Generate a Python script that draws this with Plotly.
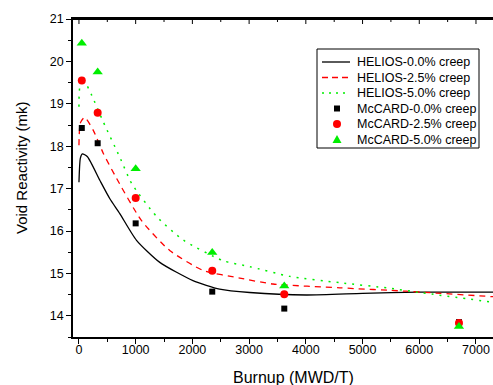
import plotly.graph_objects as go

# HELIOS curves
helios_x_00 = [0, 25, 60, 150, 370, 545, 720, 1015, 1425, 2010, 2480, 3010, 4010, 5000, 6000, 7300]
helios_y_00 = [17.15, 17.72, 17.82, 17.75, 17.19, 16.76, 16.41, 15.78, 15.26, 14.83, 14.63, 14.55, 14.49, 14.53, 14.56, 14.56]

helios_x_25 = [0, 25, 100, 250, 430, 635, 1100, 1600, 2190, 2835, 3420, 4600, 5770, 7300]
helios_y_25 = [18.02, 18.55, 18.68, 18.38, 17.83, 17.31, 16.25, 15.54, 15.07, 14.89, 14.75, 14.66, 14.58, 14.45]

helios_x_50 = [0, 25, 105, 225, 430, 720, 930, 1370, 1835, 2540, 3010, 3715, 4600, 5475, 6060, 7300]
helios_y_50 = [18.93, 19.45, 19.50, 19.20, 18.57, 17.74, 17.12, 16.34, 15.79, 15.30, 15.16, 14.93, 14.78, 14.65, 14.54, 14.32]

# McCARD points
mc_x = [50, 330, 1000, 2350, 3620, 6700]
mc_y_00 = [18.43, 18.07, 16.18, 14.57, 14.17, 13.85]
mc_y_25 = [19.55, 18.79, 16.78, 15.06, 14.51, 13.83]
mc_y_50 = [20.43, 19.75, 17.47, 15.49, 14.70, 13.75]

series_names = ["HELIOS-0.0% creep", "HELIOS-2.5% creep", "HELIOS-5.0% creep",
                "McCARD-0.0% creep", "McCARD-2.5% creep", "McCARD-5.0% creep"]

x_ticks = [0, 1000, 2000, 3000, 4000, 5000, 6000, 7000]
y_ticks = [14, 15, 16, 17, 18, 19, 20, 21]
x_range = [-105, 7300]
y_range = [13.5, 21]

FONT = "Liberation Sans, Arial, sans-serif"
BLACK, RED, GREEN = "black", "#ff0000", "#00ee00"

# plot-area geometry (pixels) for layout helpers
W, H = 493, 385
ML, MR, MT, MB = 73, 0, 19, 48
PW, PH = W - ML - MR, H - MT - MB


def px(x):
    return (x - ML) / PW


def py(y):
    return (H - MB - y) / PH


fig = go.Figure()
fig.add_trace(go.Scatter(x=helios_x_00, y=helios_y_00, mode="lines", name=series_names[0],
                         line=dict(color=BLACK, width=1.3, shape="spline", smoothing=0.6)))
fig.add_trace(go.Scatter(x=helios_x_25, y=helios_y_25, mode="lines", name=series_names[1],
                         line=dict(color=RED, width=1.3, dash="6px,5px", shape="spline", smoothing=0.6)))
fig.add_trace(go.Scatter(x=helios_x_50, y=helios_y_50, mode="lines", name=series_names[2],
                         line=dict(color=GREEN, width=1.5, dash="2px,6px", shape="spline", smoothing=0.6)))
fig.add_trace(go.Scatter(x=mc_x, y=mc_y_00, mode="markers", name=series_names[3],
                         marker=dict(symbol="square", color=BLACK, size=6)))
fig.add_trace(go.Scatter(x=mc_x, y=mc_y_25, mode="markers", name=series_names[4],
                         marker=dict(symbol="circle", color=RED, size=8)))
fig.add_trace(go.Scatter(x=mc_x, y=mc_y_50, mode="markers", name=series_names[5],
                         marker=dict(symbol="triangle-up", color=GREEN, size=9)))

shapes = []
# ---- top frame line with inward-pointing ticks (Origin style) ----
shapes.append(dict(type="line", xref="paper", yref="paper", x0=0, x1=1, y0=1, y1=1,
                   line=dict(color="black", width=2), layer="above"))
minor_ticks = [v + 500 for v in x_ticks if v + 500 <= x_range[1]]
for v in x_ticks:
    shapes.append(dict(type="line", xref="x", yref="paper", x0=v, x1=v, y0=1, y1=1 - 5 / PH,
                       line=dict(color="black", width=1), layer="above"))
for v in minor_ticks:
    shapes.append(dict(type="line", xref="x", yref="paper", x0=v, x1=v, y0=1, y1=1 - 3 / PH,
                       line=dict(color="black", width=1), layer="above"))

# ---- legend (drawn as layout shapes / annotations, Origin-style compact box) ----
shapes.append(dict(type="rect", xref="paper", yref="paper", x0=px(317), x1=px(479), y0=py(148), y1=py(49),
                   fillcolor="white", line=dict(color="black", width=1), layer="above"))
annotations = []
row_y = [62, 77.5, 93, 108.5, 124, 139.5]
line_styles = [dict(color=BLACK, width=1.3), dict(color=RED, width=1.3, dash="6px,4px"),
               dict(color=GREEN, width=1.5, dash="2px,5px")]
for i, ls in enumerate(line_styles):
    shapes.append(dict(type="line", xref="paper", yref="paper", x0=px(322), x1=px(350),
                       y0=py(row_y[i]), y1=py(row_y[i]), line=ls, layer="above"))
mk_x = px(337)
shapes.append(dict(type="rect", xref="paper", yref="paper", xsizemode="pixel", ysizemode="pixel",
                   xanchor=mk_x, yanchor=py(row_y[3]), x0=-3, x1=3, y0=-3, y1=3,
                   fillcolor=BLACK, line=dict(width=0), layer="above"))
shapes.append(dict(type="circle", xref="paper", yref="paper", xsizemode="pixel", ysizemode="pixel",
                   xanchor=mk_x, yanchor=py(row_y[4]), x0=-4, x1=4, y0=-4, y1=4,
                   fillcolor=RED, line=dict(width=0), layer="above"))
shapes.append(dict(type="path", xref="paper", yref="paper", xsizemode="pixel", ysizemode="pixel",
                   xanchor=mk_x, yanchor=py(row_y[5]), path="M-4.5,-3.5 L4.5,-3.5 L0,4.5 Z",
                   fillcolor=GREEN, line=dict(width=0), layer="above"))
for i, name in enumerate(series_names):
    annotations.append(dict(text=name, xref="paper", yref="paper", x=px(355), y=py(row_y[i]),
                            xanchor="left", yanchor="middle", showarrow=False,
                            font=dict(family=FONT, size=12.5, color="black")))

# axis titles
annotations.append(dict(text="Burnup (MWD/T)", xref="paper", yref="paper", x=px(293.5), y=py(377),
                        xanchor="center", yanchor="middle", showarrow=False,
                        font=dict(family=FONT, size=16, color="black")))
annotations.append(dict(text="Void Reactivity (mk)", xref="paper", yref="paper", x=px(21), y=py(168),
                        xanchor="center", yanchor="middle", showarrow=False, textangle=-90,
                        font=dict(family=FONT, size=15, color="black")))

axis_common = dict(showgrid=False, zeroline=False, showline=True, linecolor="black", linewidth=1.5,
                   tickcolor="black", tickwidth=1, ticklen=5, automargin=False,
                   tickfont=dict(family=FONT, size=12.5, color="black"))

fig.update_layout(
    width=W, height=H,
    margin=dict(l=ML, r=MR, t=MT, b=MB, autoexpand=False),
    paper_bgcolor="white", plot_bgcolor="white",
    font=dict(family=FONT, size=12, color="black"),
    showlegend=False,
    xaxis=dict(range=x_range, tickvals=x_ticks, ticks="outside", ticklabelstandoff=-5, mirror=True,
               minor=dict(dtick=500, ticks="outside", ticklen=3, tickcolor="black"),
               **axis_common),
    yaxis=dict(range=y_range, tickvals=y_ticks, ticks="outside",
               minor=dict(dtick=0.5, ticks="outside", ticklen=3, tickcolor="black"),
               **axis_common),
    shapes=shapes,
    annotations=annotations,
)

fig.write_html("out.html", post_script="document.body.style.margin='0';",
               config={"displayModeBar": False})
